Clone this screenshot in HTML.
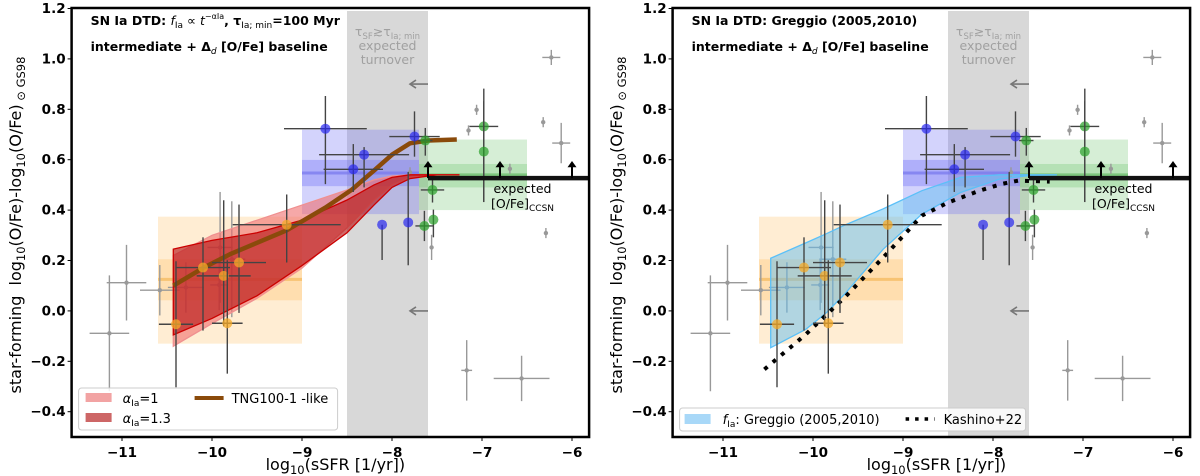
<!DOCTYPE html>
<html><head><meta charset="utf-8">
<style>
html,body{margin:0;padding:0;background:#fff;}
svg{display:block;font-family:"DejaVu Sans","Liberation Sans",sans-serif;}
.tick{font-weight:bold;font-size:13.5px;fill:#000;}
.ttl{font-weight:bold;font-size:12.5px;fill:#000;}
</style></head>
<body>
<svg id="chart" width="1200" height="476" viewBox="0 0 1200 476" xmlns="http://www.w3.org/2000/svg"></svg>
<script>
// ---- data ----
const xTicks=[-11,-10,-9,-8,-7,-6];
const yTicks=[-0.4,-0.2,0.0,0.2,0.4,0.6,0.8,1.0,1.2];
const orX=[-10.40,-10.10,-9.87,-9.70,-9.83,-9.17];
const orY=[-0.053,0.172,0.139,0.192,-0.049,0.342];
const orXe=[0.19,0.3,0.3,0.3,0.17,0.6];
const orYlo=[0.25,0.25,0.2,0.2,0.2,0.15];
const orYhi=[0.25,0.12,0.3,0.23,0.25,0.12];
const blX=[-8.74,-8.31,-8.43,-7.75,-8.11,-7.82];
const blY=[0.723,0.620,0.562,0.692,0.342,0.351];
const blXe=[0.46,0.5,0.33,0.28,0.0,0.0];
const blYlo=[0.22,0.13,0.09,0.08,0.14,0.17];
const blYhi=[0.13,0.03,0.1,0.1,0.0,0.2];
const grX=[-7.63,-6.98,-6.98,-7.55,-7.54,-7.64];
const grY=[0.676,0.732,0.632,0.48,0.362,0.337];
const grXe=[0.08,0.16,0.0,0.13,0.0,0.1];
const grYlo=[0.06,0.3,0.2,0.05,0.07,0.06];
const grYhi=[0.05,0.15,0.2,0.04,0.04,0.06];
const gyX=[-11.14,-10.95,-10.58,-10.29,-9.91,-9.92,-9.78,-7.17,-6.56,-6.29,-6.32,-6.23,-6.12,-7.06,-7.15,-6.69,-7.56,-7.80];
const gyY=[-0.089,0.112,0.082,0.093,0.252,0.103,0.205,-0.236,-0.268,0.309,0.749,1.006,0.666,0.798,0.716,0.564,0.252,0.55];
const gyXe=[0.22,0.22,0.22,0.2,0.14,0.1,0.15,0.06,0.31,0.0,0.0,0.1,0.1,0.0,0.0,0.0,0.0,0.0];
const gyYe=[0.23,0.15,0.1,0.1,0.22,0.1,0.23,0.12,0.09,0.02,0.02,0.03,0.08,0.02,0.02,0.02,0.05,0.02];
const boxX0=[-10.6,-9.0,-7.7];
const boxX1=[-9.0,-7.7,-6.5];
const boxOut0=[-0.13,0.384,0.40];
const boxOut1=[0.374,0.719,0.68];
const boxIn0=[0.042,0.495,0.49];
const boxIn1=[0.205,0.599,0.583];
const boxMed=[0.125,0.547,0.54];
const modX=[-10.43,-10.0,-9.5,-9.0,-8.5,-8.2,-8.0,-7.8,-7.5,-7.25];
const a1Up=[0.22,0.30,0.36,0.42,0.48,0.52,0.535,0.54,0.54,0.54];
const a1Lo=[-0.14,-0.05,0.05,0.17,0.33,0.44,0.50,0.53,0.54,0.54];
const a13Up=[0.245,0.28,0.31,0.36,0.44,0.50,0.53,0.54,0.54,0.54];
const a13Lo=[-0.095,-0.03,0.06,0.18,0.31,0.42,0.49,0.525,0.54,0.54];
const tngX=[-10.43,-10.1,-9.8,-9.5,-9.17,-8.74,-8.45,-8.2,-8.0,-7.8,-7.6,-7.28];
const tngY=[0.10,0.17,0.225,0.27,0.32,0.41,0.48,0.557,0.62,0.665,0.676,0.68];
const grgX=[-10.47,-10.08,-9.86,-9.65,-9.22,-8.79,-8.36,-7.93,-7.6,-7.29];
const grgUp=[0.209,0.27,0.305,0.34,0.405,0.477,0.53,0.54,0.54,0.54];
const grgLo=[-0.146,-0.073,-0.01,0.066,0.245,0.384,0.47,0.523,0.537,0.54];
const kasX=[-10.54,-10.08,-9.65,-9.22,-8.79,-8.5,-8.15,-7.9,-7.72,-7.37];
const kasY=[-0.232,-0.093,0.053,0.212,0.378,0.43,0.477,0.504,0.517,0.513];
const limX=[-7.6,-6.8,-6.0];
const ccsnY=0.527;

const NS="http://www.w3.org/2000/svg";
const svg=document.getElementById('chart');
function mk(tag,attrs,parent,txt){const e=document.createElementNS(NS,tag);for(const k in attrs)e.setAttribute(k,attrs[k]);if(txt!==undefined)e.textContent=txt;(parent||svg).appendChild(e);return e;}

function panel(off,which){
  const X=v=>off+572+(v+6)*90;
  const Y=v=>411.7-(v+0.4)*252;
  const L=X(-11.56),R=X(-5.81),T=8,B=437;
  const g=mk('g',{});
  
  
  const clipId='clip'+which;
  const cp=mk('clipPath',{id:clipId},g);mk('rect',{x:L,y:T,width:R-L,height:B-T},cp);
  const pg=mk('g',{'clip-path':'url(#'+clipId+')'},g);
  const band=mk('rect',{x:X(-8.5),y:11,width:X(-7.6)-X(-8.5),height:B-11,fill:'#d8d8d8'},pg);
  
  
  const cx=(X(-8.5)+X(-7.6))/2;
  const bt=mk('text',{'text-anchor':'middle','font-size':'12.5px',fill:'#a0a0a0'},pg);
  
  
  mk('tspan',{x:cx,y:36},bt,'τ');
  mk('tspan',{'font-size':'8.5px',dy:3},bt,'SF');
  mk('tspan',{dy:-3},bt,'≳τ');
  mk('tspan',{'font-size':'8.5px',dy:3},bt,'Ia; min');
  mk('tspan',{x:cx,y:50},bt,'expected');
  mk('tspan',{x:cx,y:64},bt,'turnover');
  const bc=[['255,195,110',0.3,0.35,'#f5b85a'],['110,110,245',0.3,0.35,'#7777ee'],['120,200,120',0.3,0.35,'#66bb66']];
  const bn=['quiescent','intermediate','starburst'];
  for(let i=0;i<3;i++){
    const b=mk('rect',{x:X(boxX0[i]),y:Y(boxOut1[i]),width:X(boxX1[i])-X(boxX0[i]),height:Y(boxOut0[i])-Y(boxOut1[i]),fill:'rgba('+bc[i][0]+','+bc[i][1]+')'},pg);
    
    
    mk('rect',{x:X(boxX0[i]),y:Y(boxIn1[i]),width:X(boxX1[i])-X(boxX0[i]),height:Y(boxIn0[i])-Y(boxIn1[i]),fill:'rgba('+bc[i][0]+','+bc[i][2]+')'},pg);
    mk('line',{x1:X(boxX0[i]),x2:X(boxX1[i]),y1:Y(boxMed[i]),y2:Y(boxMed[i]),stroke:bc[i][3],'stroke-width':3,opacity:0.7},pg);
  }
  for(let i=0;i<gyX.length;i++){
    const e=mk('g',{stroke:'#999','stroke-width':1.4},pg);
    
    
    mk('line',{x1:X(gyX[i]-gyXe[i]),x2:X(gyX[i]+gyXe[i]),y1:Y(gyY[i]),y2:Y(gyY[i])},e);
    mk('line',{x1:X(gyX[i]),x2:X(gyX[i]),y1:Y(gyY[i]-gyYe[i]),y2:Y(gyY[i]+gyYe[i])},e);
    mk('circle',{cx:X(gyX[i]),cy:Y(gyY[i]),r:2.2,fill:'#999',stroke:'none'},e);
  }
  [0.9,0.0].forEach(v=>{
    const a=mk('g',{stroke:'#777',fill:'none','stroke-width':1.6},pg);
    
    
    mk('line',{x1:X(-7.6),x2:X(-7.8),y1:Y(v),y2:Y(v)},a);
    mk('polyline',{points:`${X(-7.8)+6},${Y(v)-4} ${X(-7.8)},${Y(v)} ${X(-7.8)+6},${Y(v)+4}`},a);
  });
  function area(xs,up,lo,fill,stroke,name){
    let d='M'+xs.map((x,i)=>X(x)+','+Y(up[i])).join('L');
    d+='L'+xs.map((x,i)=>X(x)+','+Y(lo[i])).reverse().join('L')+'Z';
    const p=mk('path',{d,fill,stroke,'stroke-width':1.3},pg);
    
    
  }
  function line(xs,ys,attrs,name){
    const p=mk('path',Object.assign({d:'M'+xs.map((x,i)=>X(x)+','+Y(ys[i])).join('L'),fill:'none'},attrs),pg);
    
    
  }
  if(which==='left'){
    area(modX,a1Up,a1Lo,'rgba(240,110,110,0.6)','#f09090','alpha-1-band');
    area(modX,a13Up,a13Lo,'rgba(185,25,25,0.65)','#c00','alpha-1.3-band');
    line(tngX,tngY,{stroke:'#8a4a0a','stroke-width':4.5,'stroke-linejoin':'round'},'tng100-line');
  } else {
    area(grgX,grgUp,grgLo,'rgba(100,190,240,0.5)','#5bc0f8','greggio-band');
    line(kasX,kasY,{stroke:'#000','stroke-width':4,'stroke-dasharray':'4 7'},'kashino-line');
  }
  function pts(xs,ys,xe,ylo,yhi,col,name){
    for(let i=0;i<xs.length;i++){
      const e=mk('g',{stroke:'#444','stroke-width':1.4},pg);
      
      
      if(xe[i]>0)mk('line',{x1:X(xs[i]-xe[i]),x2:X(xs[i]+xe[i]),y1:Y(ys[i]),y2:Y(ys[i])},e);
      mk('line',{x1:X(xs[i]),x2:X(xs[i]),y1:Y(ys[i]-ylo[i]),y2:Y(ys[i]+yhi[i])},e);
      mk('circle',{cx:X(xs[i]),cy:Y(ys[i]),r:5,fill:col,stroke:'none'},e);
    }
  }
  pts(orX,orY,orXe,orYlo,orYhi,'rgba(245,170,40,0.75)','quiescent-galaxy-point');
  pts(blX,blY,blXe,blYlo,blYhi,'rgba(40,40,240,0.7)','intermediate-galaxy-point');
  pts(grX,grY,grXe,grYlo,grYhi,'rgba(40,160,40,0.7)','starburst-galaxy-point');
  const cl=mk('line',{x1:X(-7.6),x2:R,y1:Y(ccsnY),y2:Y(ccsnY),stroke:'#111','stroke-width':4.5},pg);
  
  
  limX.forEach(v=>{
    const a=mk('g',{stroke:'#000','stroke-width':2},pg);
    
    
    mk('line',{x1:X(v),x2:X(v),y1:Y(ccsnY),y2:Y(0.575)},a);
    mk('polygon',{points:`${X(v)-4.5},${Y(0.57)} ${X(v)+4.5},${Y(0.57)} ${X(v)},${Y(0.595)}`,fill:'#000',stroke:'none'},a);
  });
  const ct=mk('text',{'text-anchor':'middle','font-size':'12.5px',fill:'#000'},pg);
  
  
  mk('tspan',{x:X(-6.55),y:193},ct,'expected');
  mk('tspan',{x:X(-6.55),y:208},ct,'[O/Fe]');
  mk('tspan',{'font-size':'9px',dy:3},ct,'CCSN');
  const fr=mk('rect',{x:L,y:T,width:R-L,height:B-T,fill:'none',stroke:'#000','stroke-width':2.5},g);
  
  
  xTicks.forEach(v=>{
    mk('line',{x1:X(v),x2:X(v),y1:B,y2:B+4,stroke:'#000','stroke-width':1},g);
    const t=mk('text',{x:X(v),y:B+20,'text-anchor':'middle',class:'tick'},g,String(v).replace('-','−'));
    
    
  });
  yTicks.forEach(v=>{
    mk('line',{x1:L-4,x2:L,y1:Y(v),y2:Y(v),stroke:'#000','stroke-width':1},g);
    const t=mk('text',{x:L-6,y:Y(v)+4.5,'text-anchor':'end',class:'tick'},g,v.toFixed(1).replace('-','−'));
    
    
  });
  const xt=mk('text',{x:(L+R)/2+5,y:470,'text-anchor':'middle','font-size':'16px'},g);
  
  
  xt.appendChild(document.createTextNode('log'));
  mk('tspan',{'font-size':'11.5px',dy:4},xt,'10');
  mk('tspan',{dy:-4},xt,'(sSFR [1/yr])');
  const yt=mk('text',{transform:`translate(${off+21},225) rotate(-90)`,'text-anchor':'middle','font-size':'16px'},g);
  
  
  yt.appendChild(document.createTextNode('star-forming\u00a0\u00a0log'));
  mk('tspan',{'font-size':'11.5px',dy:4},yt,'10');
  mk('tspan',{dy:-4},yt,'(O/Fe)-log');
  mk('tspan',{'font-size':'11.5px',dy:4},yt,'10');
  mk('tspan',{dy:-4},yt,'(O/Fe)');
  mk('tspan',{'font-size':'11.5px',dy:4},yt,'\u00a0⊙ GS98');
  const t1=mk('text',{x:L+19,y:25,class:'ttl'},g);
  
  
  if(which==='left'){
    t1.appendChild(document.createTextNode('SN Ia DTD: '));
    mk('tspan',{'font-style':'italic','font-weight':'normal'},t1,'f');
    mk('tspan',{'font-size':'9px','font-weight':'normal',dy:3},t1,'Ia');
    mk('tspan',{'font-weight':'normal',dy:-3},t1,' ∝ ');
    mk('tspan',{'font-style':'italic','font-weight':'normal'},t1,'t');
    mk('tspan',{'font-size':'8px','font-weight':'normal',dy:-6},t1,'−αIa');
    mk('tspan',{dy:6},t1,', τ');
    mk('tspan',{'font-size':'9px','font-weight':'normal',dy:3},t1,'Ia; min');
    mk('tspan',{dy:-3},t1,'=100 Myr');
  } else {
    t1.textContent='SN Ia DTD: Greggio (2005,2010)';
  }
  const t3=mk('text',{x:L+19,y:51,class:'ttl'},g,'intermediate + Δ');
  
  
  mk('tspan',{'font-size':'9px','font-style':'italic','font-weight':'normal',dy:3},t3,'d');
  mk('tspan',{dy:-3},t3,' [O/Fe] baseline');
  const lg=mk('g',{},g);
  
  
  if(which==='left'){
    mk('rect',{x:L+7,y:388,width:259,height:42,rx:3,fill:'rgba(255,255,255,0.85)',stroke:'#ccc'},lg);
    const e1=mk('g',{},lg);
    mk('rect',{x:L+14,y:393,width:26,height:9,fill:'#f2a3a3'},e1);
    const a=mk('text',{x:L+51,y:403,'font-size':'13px'},e1);mk('tspan',{'font-style':'italic'},a,'α');mk('tspan',{'font-size':'9px',dy:3},a,'Ia');mk('tspan',{dy:-3},a,'=1');
    const e2=mk('g',{},lg);
    mk('rect',{x:L+14,y:413,width:26,height:9,fill:'#cd6666'},e2);
    const b=mk('text',{x:L+51,y:423,'font-size':'13px'},e2);mk('tspan',{'font-style':'italic'},b,'α');mk('tspan',{'font-size':'9px',dy:3},b,'Ia');mk('tspan',{dy:-3},b,'=1.3');
    const e3=mk('g',{},lg);
    mk('line',{x1:L+123,x2:L+152,y1:398,y2:398,stroke:'#8a4a0a','stroke-width':4},e3);
    mk('text',{x:L+160,y:403,'font-size':'13px'},e3,'TNG100-1 -like');
  } else {
    mk('rect',{x:L+7,y:408,width:346,height:23,rx:3,fill:'rgba(255,255,255,0.85)',stroke:'#ccc'},lg);
    const e1=mk('g',{},lg);
    mk('rect',{x:L+12,y:414,width:26,height:10,fill:'#a8d8f8'},e1);
    const a=mk('text',{x:L+50,y:424,'font-size':'13px'},e1);mk('tspan',{'font-style':'italic'},a,'f');mk('tspan',{'font-size':'9px',dy:3},a,'Ia');mk('tspan',{dy:-3},a,': Greggio (2005,2010)');
    const e2=mk('g',{},lg);
    mk('line',{x1:L+233,x2:L+262,y1:419,y2:419,stroke:'#000','stroke-width':3.5,'stroke-dasharray':'3.5 6'},e2);
    mk('text',{x:L+271,y:424,'font-size':'13px'},e2,'Kashino+22');
  }
}
panel(0,'left');
panel(601,'right');
</script>
</body></html>
